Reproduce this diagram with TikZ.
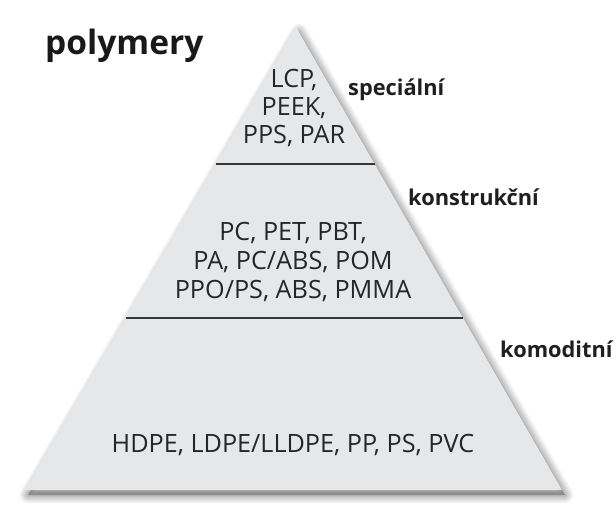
\documentclass[tikz,border=0pt]{standalone}
\usepackage{fontspec}
\setmainfont{Open Sans}
\usepackage{xcolor}
\usetikzlibrary{calc}
\definecolor{PyrFill}{RGB}{229,231,233}
\definecolor{PyrLine}{RGB}{55,55,55}
\definecolor{TextGray}{RGB}{38,38,38}

\begin{document}
\begin{tikzpicture}[x=1pt,y=-1pt,
  polytext/.style={anchor=base,text=TextGray,inner sep=0pt,
                   font=\fontsize{25.2}{30}\selectfont},
  tier/.style={anchor=base west,text=black!88,inner sep=0pt,
               font=\fontsize{21.8}{26}\selectfont\bfseries},
  divider/.style={PyrLine,line width=1.3pt},
  shadowline/.style={black,opacity=0.06,line join=round},
]
\useasboundingbox (0,0) rectangle (616,506);

%% Pyramid outline and soft shadow
\coordinate (apex) at (296,27);
\coordinate (bl)   at (25,490);
\coordinate (br)   at (562,490);
\foreach \w in {16,12,9,6,3}
  \filldraw[shadowline,line width=\w pt]
    ($(apex)+(3,5)$) -- ($(bl)+(3,5)$) -- ($(br)+(3,5)$) -- cycle;
\fill[PyrFill] (apex) -- (bl) -- (br) -- cycle;

%% Tier dividers
\coordinate (d1l) at ($(apex)!0.296!(bl)$);
\coordinate (d1r) at ($(apex)!0.296!(br)$);
\coordinate (d2l) at ($(apex)!0.6285!(bl)$);
\coordinate (d2r) at ($(apex)!0.6285!(br)$);
\draw[divider] (d1l) -- (d1r);
\draw[divider] (d2l) -- (d2r);

%% Title
\node[anchor=base west,inner sep=0pt,text=black!90,
      font=\fontsize{33.5}{38}\selectfont\bfseries] (title) at (45,54) {polymery};

%% Tier names
\node[tier] (spec) at (348,95)  {speciální};
\node[tier] (kons) at (408,205) {konstrukční};
\node[tier] (komo) at (500,357) {komoditní};

%% Top tier
\node[polytext] (lcp)  at (294,87)  {LCP,};
\node[polytext] (peek) at (294,115) {PEEK,};
\node[polytext] (pps)  at (294,143) {PPS, PAR};

%% Middle tier
\node[polytext] (pc)  at (293,240) {PC, PET, PBT,};
\node[polytext] (pa)  at (293,269) {PA, PC/ABS, POM};
\node[polytext] (ppo) at (293,298) {PPO/PS, ABS, PMMA};

%% Bottom tier
\node[polytext] (hdpe) at (293,452) {HDPE, LDPE/LLDPE, PP, PS, PVC};
\end{tikzpicture}
\end{document}
